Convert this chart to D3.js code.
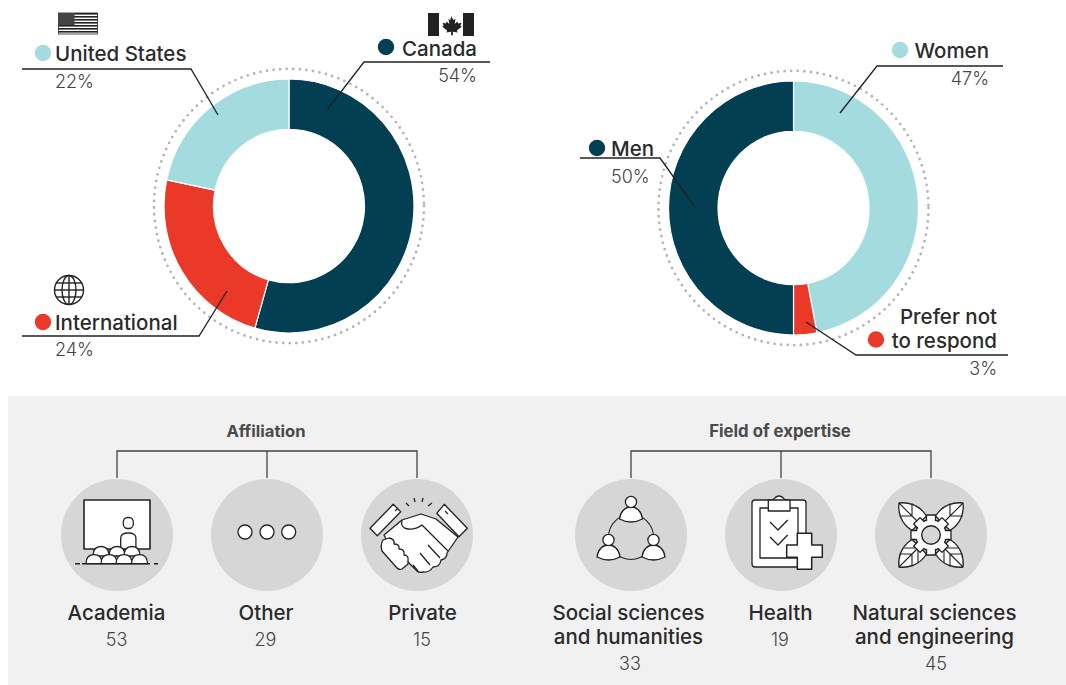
<!DOCTYPE html>
<html><head><meta charset="utf-8">
<script src="https://cdn.jsdelivr.net/npm/d3@7/dist/d3.min.js"></script>
<style>html,body{margin:0;padding:0;background:#fff}svg{display:block}text{font-family:Inter,"Noto Sans",sans-serif}</style>
</head><body><div id="c"></div>
<script>
const originNames=["Canada","International","United States"];
const originValues=[54.4,23.9,21.7];
const genderNames=["Women","Prefer not to respond","Men"];
const genderValues=[47,3,50];
const affiliationNames=["Academia","Other","Private"];
const affiliationValues=[53,29,15];
const fieldNames=[["Social sciences","and humanities"],["Health"],["Natural sciences","and engineering"]];
const fieldValues=[33,19,45];
const DARK="#023f52",TEAL="#a4dbde",RED="#ea3829",INK="#2b2b2b",SOFT="#444";

const svg=d3.select("#c").append("svg").attr("width",1066).attr("height",685);
const pct=v=>d3.format(".0f")(v)+"%";

function donut(cx,cy,names,values,colors){
  const pie=d3.pie().sort(null).value(d=>d)(values);
  const arc=d3.arc().innerRadius(75.5).outerRadius(125);
  const color=d3.scaleOrdinal().domain(names).range(colors);
  const g=svg.append("g").attr("transform",`translate(${cx},${cy}) scale(1,1.016)`);
  g.append("circle").attr("r",135).attr("fill","none").attr("stroke","#b5b5b5")
    .attr("stroke-width",2.8).attr("stroke-linecap","round").attr("stroke-dasharray","0 6.6");
  g.selectAll("path").data(pie).join("path").attr("d",arc)
    .attr("fill",(d,i)=>color(names[i])).attr("stroke","#fff").attr("stroke-width",1.2);
}
donut(289,206,originNames,originValues,[DARK,RED,TEAL]);
donut(793.5,208,genderNames,genderValues,[TEAL,RED,DARK]);

const line=d3.line();
function leader(pts,w){svg.append("path").attr("d",line(pts)).attr("fill","none").attr("stroke","#222").attr("stroke-width",w||1.3);}
function txt(x,y,s,size,anchor,weight,fill){
  return svg.append("text").attr("x",x).attr("y",y).attr("font-size",size).attr("text-anchor",anchor||"start")
    .attr("font-weight",weight||400).attr("fill",fill||INK).text(s);
}
function dot(x,y,c){svg.append("circle").attr("cx",x).attr("cy",y).attr("r",8.2).attr("fill",c);}

leader([[22,69],[191,69],[218,115]]);
leader([[490,62],[364,62],[327,110]]);
leader([[22,336],[199,336],[227,291]]);
leader([[580,158],[660,158],[695,207]]);
leader([[1003,66],[877,66],[840,113]]);
leader([[1008,355],[856,355],[806,322]]);

const LS=20.5;
dot(43,53,TEAL);txt(55,61,originNames[2],LS,"start",500);txt(55,88,pct(originValues[2]),18,"start",300,SOFT);
dot(386,47,DARK);txt(477,56,originNames[0],LS,"end",500);txt(477,82,pct(originValues[0]),18,"end",300,SOFT);
dot(43,322,RED);txt(55,330,originNames[1],LS,"start",500);txt(55,356,pct(originValues[1]),18,"start",300,SOFT);
dot(597,148,DARK);txt(611,156,genderNames[2],LS,"start",500);txt(611,183,pct(genderValues[2]),18,"start",300,SOFT);
dot(900,50,TEAL);txt(989,58,genderNames[0],LS,"end",500);txt(989,85,pct(genderValues[0]),18,"end",300,SOFT);
txt(997,324,"Prefer not",LS,"end",500);txt(997,348,"to respond",LS,"end",500);dot(876,339.5,RED);txt(997,375,pct(genderValues[1]),18,"end",300,SOFT);

// flags
const us=svg.append("g").attr("transform","translate(58.5,13)");
us.append("rect").attr("width",39).attr("height",21).attr("fill","#fff").attr("stroke","#222").attr("stroke-width",.8);
d3.range(7).forEach(i=>us.append("rect").attr("y",i*3).attr("width",39).attr("height",1.6).attr("fill","#222"));
us.append("rect").attr("width",16).attr("height",12).attr("fill","#444");
const ca=svg.append("g").attr("transform","translate(428,13)");
ca.append("rect").attr("width",46).attr("height",23).attr("fill","#fff");
ca.append("rect").attr("width",11).attr("height",23).attr("fill","#222");
ca.append("rect").attr("x",35).attr("width",11).attr("height",23).attr("fill","#222");
ca.append("path").attr("d","M23 3l2.5 4 2-1-.8 5 2.600-2.400.8 1.800 3.300-.6-1 3.200 1.300.8-4.800 3.800.6 1.800-4.600-.7v3.600h-1.800v-3.600l-4.600.7.6-1.800-4.800-3.800 1.300-.8-1-3.200 3.300.6.8-1.800 2.600 2.400-.8-5 2 1z").attr("fill","#222");
// globe
const gl=svg.append("g").attr("transform","translate(69,290)").attr("fill","none").attr("stroke","#222").attr("stroke-width",1.4);
gl.append("circle").attr("r",14.5);
gl.append("ellipse").attr("rx",7).attr("ry",14.5);
gl.append("line").attr("y1",-14.5).attr("y2",14.5);
gl.append("line").attr("x1",-14.5).attr("x2",14.5);
gl.append("line").attr("x1",-12.5).attr("x2",12.5).attr("y1",-7).attr("y2",-7);
gl.append("line").attr("x1",-12.5).attr("x2",12.5).attr("y1",7).attr("y2",7);

// lower panel
svg.append("rect").attr("x",8).attr("y",396).attr("width",1058).attr("height",289).attr("fill","#f1f1f1");
const slot=d3.scalePoint().domain([0,1,2]).range([0,300]);
const ST="#222";
function icon(g,kind){
  const s=g.attr("stroke",ST).attr("stroke-width",1.3).attr("fill","#fff").attr("stroke-linejoin","round");
  if(kind==="Academia"){
    s.append("rect").attr("x",-33).attr("y",-35).attr("width",66).attr("height",49).attr("stroke-width",1.6);
    s.append("rect").attr("x",6.3).attr("y",-17.5).attr("width",10).attr("height",11).attr("rx",4.5);
    s.append("path").attr("d","M3.7 14V3q0-5 7.6-5t7.6 5V14z");
    [-16,0,15].forEach(x=>s.append("path").attr("d",`M${x-8} 21q0-9.5 8-9.5t8 9.5z`));
    [-23,-8,7,22.5].forEach(x=>s.append("path").attr("d",`M${x-8} 28.7q0-9 8-9t8 9z`));
    s.append("path").attr("d","M-42 28.7H-37M-35 28.7H33M37 28.7H41").attr("fill","none").attr("stroke-width",1.5);
  } else if(kind==="Other"){
    [-22,0,21.7].forEach(x=>s.append("circle").attr("cx",x).attr("cy",-3).attr("r",7));
  } else if(kind==="Private"){
    s.append("path").attr("d","M-15 -15L4 -21L19 -16L41 2L30 18Q30 24 24 25Q23 32 16 32Q12 38 6 37Q2 38 0 36L-8 28L-30 6L-33 0z");
    s.append("path").attr("d","M-23.7 -30.7L-16.3 -23.3L-39.7 .7L-47 -6.7z");
    s.append("path").attr("d","M27.3 -30.7L50.3 -6.7L42 1.7L19.7 -21.7z");
    s.append("path").attr("d","M-34 5L-28 3Q-22 4 -23 9Q-17 9 -18 14Q-12 14 -13 20Q-8 20 -9 26L-9 29L-15 34Q-18 35 -20 33L-35 16Q-37 10 -34 5z");
    s.append("path").attr("d","M-15 -15Q-17 -7 -9 -6Q-2 -5 5 -10L31 16M23 23L11 10M13 30L3 18M1 36L-4 30").attr("fill","none");
    s.append("path").attr("d","M-22 -24L-19 -27M28 -24L31 -21").attr("fill","none");
    s.append("path").attr("d","M-11 -32L-8 -29M-3 -37L-2 -33M6 -37L5 -33M15 -32L11 -29").attr("fill","none");
  } else if(kind==="Social"){
    s.append("circle").attr("cx",0).attr("cy",2).attr("r",22.5).attr("fill","none").attr("stroke-width",1.1);
    const person=(x,y)=>{
      s.append("path").attr("d",`M${x-11.5} ${y+12}c1-8 6-12 11.5-12s10.5 4 11.5 12q-11.5 6-23 0z`);
      s.append("circle").attr("cx",x).attr("cy",y-5).attr("r",5.6);
    };
    person(0,-28);person(-22.5,10);person(22.5,10);
  } else if(kind==="Health"){
    s.append("rect").attr("x",-29).attr("y",-35).attr("width",54).attr("height",67).attr("rx",3);
    s.append("path").attr("d","M-21 -27V23H17V-27z");
    s.append("path").attr("d","M-8 -35q6-8 12 0");
    s.append("path").attr("d","M-12.7 -35H9V-24H-12.7z");
    s.append("path").attr("d","M-11 -13L-3 -5L6.7 -15M-11 2L-3 10L6.7 0").attr("fill","none");
    s.append("path").attr("d","M16.3 -1.7H30.7V10H41.3V22.3H30.7V34.3H16.3V22.3H5.7V10H16.3z").attr("stroke-width",1.5);
  } else if(kind==="Natural"){
    [[1,1],[-1,1],[1,-1],[-1,-1]].forEach(m=>{
      const l=s.append("g").attr("transform",`scale(${m[0]},${m[1]})`);
      l.append("path").attr("d","M32 32C24 33 12 31 4.5 19L19 4.5C31 12 33 24 32 32z");
      l.append("path").attr("d","M32 32L11 11M19 19V31.5M19 19H31.5").attr("fill","none").attr("stroke-width",1.1);
      if(m[1]>0) l.append("path").attr("d","M13 13V28M13 13H28").attr("fill","none").attr("stroke-width",1.1);
    });
    s.append("circle").attr("r",15.5);
    d3.range(8).forEach(i=>s.append("rect").attr("x",-4.5).attr("y",-20).attr("width",9).attr("height",8).attr("transform",`rotate(${i*45})`));
    s.append("circle").attr("r",14.5).attr("stroke","none");
    s.append("circle").attr("r",9.3).attr("fill","#d6d6d6").attr("stroke-width",1.4);
  }
}
function group(x0,title,names,values,kinds,labelX,valueX,tSize){
  const xs=names.map((d,i)=>x0+slot(i));
  txt(xs[1]-1,436.5,title,tSize,"middle",700,"#4a4a4a");
  svg.append("path").attr("d",line([[xs[0],478],[xs[0],451],[xs[2],451],[xs[2],478]])).attr("fill","none").attr("stroke","#444").attr("stroke-width",1.3);
  svg.append("path").attr("d",line([[xs[1],451],[xs[1],478]])).attr("fill","none").attr("stroke","#444").attr("stroke-width",1.3);
  names.forEach((n,i)=>{
    svg.append("circle").attr("cx",xs[i]).attr("cy",535).attr("r",56).attr("fill","#d6d6d6");
    icon(svg.append("g").attr("transform",`translate(${xs[i]},535)`),kinds[i]);
    const lines=Array.isArray(n)?n:[n];
    lines.forEach((t,j)=>txt(xs[i]+labelX[i],620+j*24,t,LS,"middle",500));
    txt(xs[i]+valueX[i],lines.length>1?670:646,values[i],18,"middle",300,SOFT);
  });
}
group(117,"Affiliation",affiliationNames,affiliationValues,["Academia","Other","Private"],[-.5,-1,5.5],[-.5,-1.5,5],16.6);
group(631,"Field of expertise",fieldNames,fieldValues,["Social","Health","Natural"],[-2.5,-.5,3.5],[-1,-1,5],16.8);
</script></body></html>
